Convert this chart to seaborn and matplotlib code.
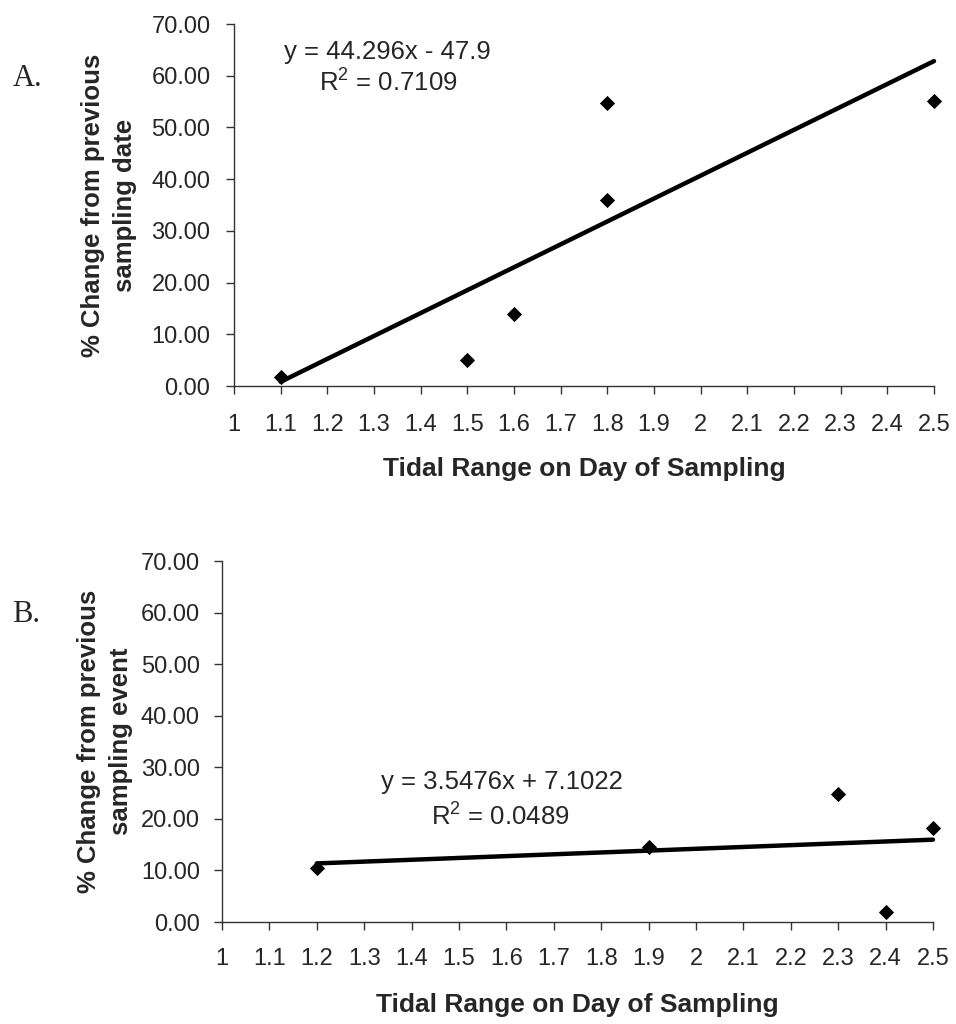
import numpy as np
import pandas as pd
import matplotlib
matplotlib.use("Agg")
import matplotlib.pyplot as plt
import seaborn as sns

# ---- data ----
tidal_a = [1.1, 1.5, 1.6, 1.8, 1.8, 2.5]
change_a = [1.7, 5.0, 13.9, 36.0, 54.7, 55.1]
slope_a, intercept_a, r2_a = 44.296, -47.9, 0.7109

tidal_b = [1.2, 1.9, 2.3, 2.4, 2.5]
change_b = [10.5, 14.5, 24.9, 1.9, 18.3]
slope_b, intercept_b, r2_b = 3.5476, 7.1022, 0.0489

x_ticks = [1.0, 1.1, 1.2, 1.3, 1.4, 1.5, 1.6, 1.7, 1.8, 1.9, 2.0, 2.1, 2.2, 2.3, 2.4, 2.5]
y_ticks = [0, 10, 20, 30, 40, 50, 60, 70]

sns.set_theme(style="white")
plt.rcParams['font.family'] = ['Liberation Sans', 'DejaVu Sans']
plt.rcParams['mathtext.default'] = 'regular'

fig = plt.figure(figsize=(9.56, 10.24), dpi=100)

panels = [
    dict(rect=[0.2448, 0.623, 0.7322, 0.3535], x=tidal_a, y=change_a,
         slope=slope_a, inter=intercept_a, r2=r2_a,
         eq="y = 44.296x - 47.9", r2txt="R$^2$ = 0.7109",
         eqpos=(0.2186, 0.9227), r2pos=(0.220, 0.837),
         ylabel="% Change from previous\nsampling date", ylab_x=-0.139,
         letter="A.", letter_pos=(13, 78), xpad=14, ypad=11, xlpad=15),
    dict(rect=[0.2322, 0.0996, 0.7437, 0.3525], x=tidal_b, y=change_b,
         slope=slope_b, inter=intercept_b, r2=r2_b,
         eq="y = 3.5476x + 7.1022", r2txt="R$^2$ = 0.0489",
         eqpos=(0.394, 0.388), r2pos=(0.392, 0.291),
         ylabel="% Change from previous\nsampling event", ylab_x=-0.125,
         letter="B.", letter_pos=(12, 615), xpad=13, ypad=10, xlpad=16.5),
]

for p in panels:
    ax = fig.add_axes(p["rect"])
    df = pd.DataFrame({"x": p["x"], "y": p["y"]})
    xs = np.array([min(p["x"]), max(p["x"])])
    line_df = pd.DataFrame({"x": xs, "y": p["slope"] * xs + p["inter"]})
    sns.lineplot(data=line_df, x="x", y="y", ax=ax, color="black", linewidth=3.2,
                 solid_capstyle="round")
    sns.scatterplot(data=df, x="x", y="y", ax=ax, marker="D", s=60, color="black",
                    linewidth=0, zorder=3)
    for art in ax.lines + ax.collections:
        art.set_clip_on(False)
    ax.set_xlim(1.0, 2.5)
    ax.set_ylim(0, 70)
    ax.set_xticks(x_ticks)
    ax.set_xticklabels([("%g" % v) for v in x_ticks])
    ax.set_yticks(y_ticks)
    ax.set_yticklabels(["%.2f" % v for v in y_ticks])
    for s in ["top", "right"]:
        ax.spines[s].set_visible(False)
    for s in ["left", "bottom"]:
        ax.spines[s].set_color("#333333")
        ax.spines[s].set_linewidth(1.0)
    ax.tick_params(axis="x", direction="out", length=6, width=1, color="#333333",
                   labelsize=17, pad=p["xpad"], bottom=True)
    ax.tick_params(axis="y", direction="out", length=6, width=1, color="#333333",
                   labelsize=17, pad=p["ypad"], left=True)
    ax.set_xlabel("Tidal Range on Day of Sampling", fontsize=19, fontweight="bold",
                  labelpad=p["xlpad"])
    ax.set_ylabel(p["ylabel"], fontsize=18.5, fontweight="bold", linespacing=1.42)
    ax.yaxis.set_label_coords(p["ylab_x"], 0.5)
    ax.text(*p["eqpos"], p["eq"], transform=ax.transAxes, ha="center", va="center",
            fontsize=18.5)
    ax.text(*p["r2pos"], p["r2txt"], transform=ax.transAxes, ha="center", va="center",
            fontsize=18.5)
    fig.text(p["letter_pos"][0] / 956, 1 - p["letter_pos"][1] / 1024, p["letter"],
             family="Liberation Serif", fontsize=22, ha="left", va="center")
    ax.set_facecolor("white")

fig.savefig("out.png", dpi=100, facecolor="white")
